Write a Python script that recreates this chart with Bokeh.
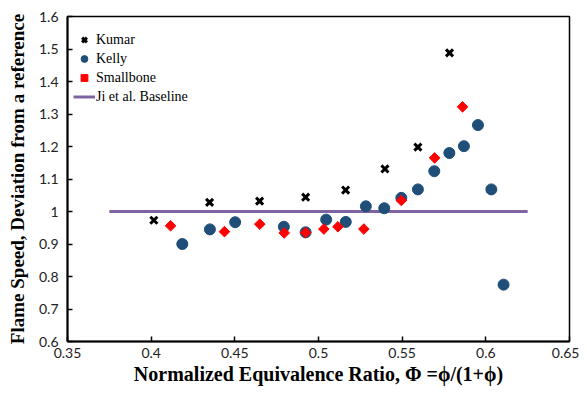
import math
from bokeh.plotting import figure
from bokeh.models import Range1d, FixedTicker, Legend, LegendItem
from bokeh.embed import file_html
from bokeh.resources import INLINE

# Data
kumar_x = [0.4016, 0.4349, 0.4648, 0.4923, 0.5162, 0.5397, 0.5594, 0.5783]
kumar_y = [0.973, 1.028, 1.032, 1.044, 1.066, 1.131, 1.198, 1.488]

kelly_x = [0.4186, 0.4351, 0.4502, 0.4793, 0.4923, 0.5046, 0.5163, 0.5283, 0.5393,
           0.5495, 0.5594, 0.5692, 0.5782, 0.5869, 0.5953, 0.6033, 0.6106]
kelly_y = [0.900, 0.945, 0.967, 0.953, 0.936, 0.975, 0.968, 1.016, 1.010,
           1.042, 1.068, 1.124, 1.180, 1.201, 1.266, 1.068, 0.775]

small_x = [0.4116, 0.4438, 0.4649, 0.4795, 0.4923, 0.5032, 0.5116, 0.5271, 0.5495, 0.5694, 0.5861]
small_y = [0.956, 0.938, 0.961, 0.934, 0.935, 0.946, 0.953, 0.946, 1.034, 1.165, 1.322]

base_x = [0.375, 0.625]
base_y = [1.0, 1.0]

x_ticks = [0.35, 0.4, 0.45, 0.5, 0.55, 0.6, 0.65]
x_labels = ["0.35", "0.4", "0.45", "0.5", "0.55", "0.6", "0.65"]
y_ticks = [0.6, 0.7, 0.8, 0.9, 1.0, 1.1, 1.2, 1.3, 1.4, 1.5, 1.6]
y_labels = ["0.6", "0.7", "0.8", "0.9", "1", "1.1", "1.2", "1.3", "1.4", "1.5", "1.6"]

p = figure(width=579, height=387, output_backend="svg", toolbar_location=None,
           x_range=Range1d(0.35, 0.65), y_range=Range1d(0.6, 1.6),
           min_border_left=67, min_border_right=10, min_border_top=16, min_border_bottom=45)
p.grid.visible = False
p.outline_line_color = "black"
p.outline_line_width = 1.5
p.background_fill_color = "white"
p.border_fill_color = "white"

for ax in (p.xaxis[0], p.yaxis[0]):
    ax.axis_line_color = "black"
    ax.axis_line_width = 2
    ax.major_tick_in = 5
    ax.major_tick_out = 0
    ax.minor_tick_line_color = None
    ax.major_tick_line_color = "black"
    ax.major_tick_line_width = 1.5
    ax.major_label_text_font = "Lato"
    ax.major_label_text_font_size = "14px"
    ax.major_label_text_color = "#222222"
    ax.axis_label_text_font = "Liberation Serif"
    ax.axis_label_text_font_style = "bold"
    ax.axis_label_text_font_size = "19px"
    ax.axis_label_text_color = "black"

p.xaxis.axis_label_text_font_size = "20px"
p.xaxis.ticker = FixedTicker(ticks=x_ticks)
p.xaxis.major_label_overrides = dict(zip(x_ticks, x_labels))
p.yaxis.ticker = FixedTicker(ticks=y_ticks)
p.yaxis.major_label_overrides = dict(zip(y_ticks, y_labels))
p.xaxis.axis_label = "Normalized Equivalence Ratio, Φ =ϕ/(1+ϕ)"
p.yaxis.axis_label = "Flame Speed, Deviation from a reference"
p.xaxis.major_label_standoff = 6
p.yaxis.major_label_standoff = 9
p.xaxis.axis_label_standoff = 2
p.yaxis.axis_label_standoff = 8

r_base = p.line(base_x, base_y, line_color="#8064A2", line_width=3)
r_kumar = p.scatter(kumar_x, kumar_y, marker="x", size=10, line_color="black", line_width=3)
r_kelly = p.scatter(kelly_x, kelly_y, marker="circle", size=11, fill_color="#1F4E79",
                    line_color="#1F4E79")
r_small = p.scatter(small_x, small_y, marker="square", size=7.5, angle=math.pi / 4,
                    fill_color="#FF0000", line_color="#FF0000")

legend = Legend(items=[
    LegendItem(label="Kumar", renderers=[r_kumar]),
    LegendItem(label="Kelly", renderers=[r_kelly]),
    LegendItem(label="Smallbone", renderers=[r_small]),
    LegendItem(label="Ji et al. Baseline", renderers=[r_base]),
], location="top_left")
legend.title = " "
legend.title_text_font_size = "8px"
legend.title_standoff = 0
legend.border_line_color = None
legend.background_fill_alpha = 0
legend.label_text_font = "Liberation Serif"
legend.label_text_font_size = "14px"
legend.label_text_color = "black"
legend.glyph_width = 22
legend.glyph_height = 17
legend.label_height = 17
legend.spacing = 2
legend.padding = 2
legend.margin = 6
legend.label_standoff = 1
p.add_layout(legend)

open("out.html", "w").write(file_html(p, INLINE))
